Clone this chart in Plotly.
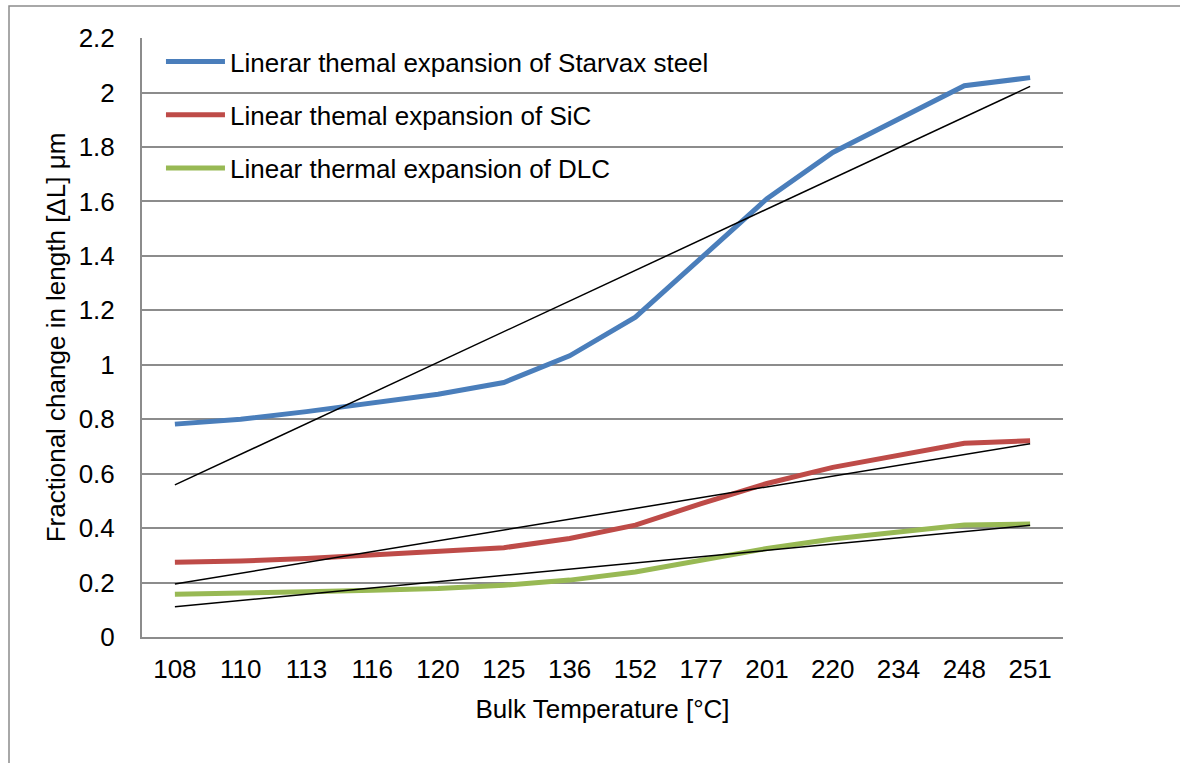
import numpy as np
import plotly.graph_objects as go

categories = ["108", "110", "113", "116", "120", "125", "136", "152", "177", "201", "220", "234", "248", "251"]
steel = [0.782, 0.800, 0.828, 0.858, 0.892, 0.935, 1.033, 1.175, 1.395, 1.610, 1.780, 1.900, 2.025, 2.055]
sic = [0.275, 0.279, 0.288, 0.300, 0.313, 0.328, 0.362, 0.411, 0.490, 0.564, 0.623, 0.669, 0.712, 0.721]
dlc = [0.157, 0.160, 0.166, 0.172, 0.178, 0.190, 0.209, 0.239, 0.282, 0.325, 0.360, 0.387, 0.411, 0.415]

names = ["Linerar themal expansion of Starvax steel",
         "Linear themal expansion of SiC",
         "Linear thermal expansion of DLC"]
colors = ["#4A7EBB", "#BE4B48", "#98B954"]
series = [steel, sic, dlc]

ytick_vals = [0, 0.2, 0.4, 0.6, 0.8, 1.0, 1.2, 1.4, 1.6, 1.8, 2.0, 2.2]
ytick_text = ["0", "0.2", "0.4", "0.6", "0.8", "1", "1.2", "1.4", "1.6", "1.8", "2", "2.2"]

FONT = "Liberation Sans, Arial, sans-serif"
GRID = "#8c8c8c"

fig = go.Figure()
for i, (name, col, vals) in enumerate(zip(names, colors, series)):
    fig.add_trace(go.Scatter(
        x=categories, y=vals, mode="lines", name=name,
        line=dict(color=col, width=5), legendgroup=f"g{i}",
    ))

idx = np.arange(len(categories))
for vals in series:
    slope, intercept = np.polyfit(idx, vals, 1)
    fit = slope * idx + intercept
    fig.add_trace(go.Scatter(
        x=[categories[0], categories[-1]], y=[fit[0], fit[-1]], mode="lines",
        line=dict(color="black", width=1.5), showlegend=False, hoverinfo="skip",
    ))

# outer chart border (Excel chart area)
fig.add_shape(type="rect", xref="paper", yref="paper",
              x0=(9 - 142) / 921, x1=2, y0=-1, y1=(637 - 6) / 599,
              line=dict(color="#8c8c8c", width=1.5), layer="below")

fig.update_layout(
    width=1180, height=763,
    margin=dict(l=142, r=117, t=38, b=126, pad=0),
    paper_bgcolor="white", plot_bgcolor="white",
    font=dict(family=FONT, size=26, color="black"),
    showlegend=True,
    legend=dict(
        x=0.0206, y=1.0, xanchor="left", yanchor="top",
        bgcolor="rgba(0,0,0,0)", borderwidth=0,
        font=dict(family=FONT, size=26, color="black"),
        itemwidth=59, tracegroupgap=16.5, traceorder="grouped",
    ),
    xaxis=dict(
        type="category", range=[-0.5, len(categories) - 0.5],
        showgrid=False, showline=True, linecolor=GRID, linewidth=2,
        ticks="", ticklabelstandoff=8,
        title=dict(text="Bulk Temperature [°C]", standoff=17,
                   font=dict(family=FONT, size=26, color="black")),
        tickfont=dict(family=FONT, size=26, color="black"),
        fixedrange=True,
    ),
    yaxis=dict(
        range=[0, 2.2005], tickmode="array", tickvals=ytick_vals, ticktext=ytick_text,
        showgrid=True, gridcolor=GRID, gridwidth=1.5,
        showline=True, linecolor=GRID, linewidth=2, zeroline=False,
        ticks="", ticklabelstandoff=20,
        title=dict(text="Fractional change in length [ΔL] μm", standoff=6,
                   font=dict(family=FONT, size=26, color="black")),
        tickfont=dict(family=FONT, size=26, color="black"),
        fixedrange=True,
    ),
)

fig.write_html("out.html", config={"displayModeBar": False})
